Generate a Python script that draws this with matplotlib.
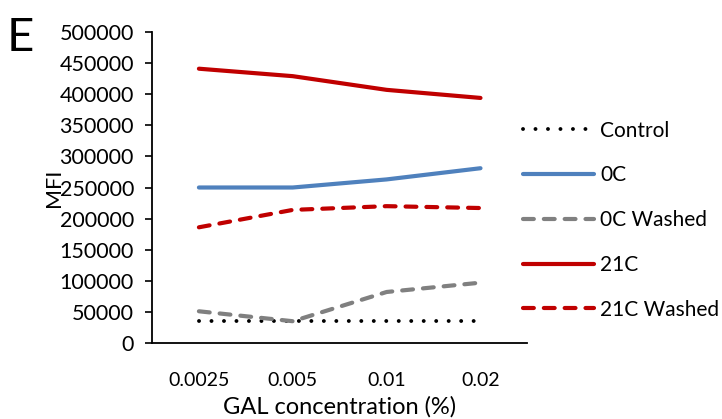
import numpy as np
import matplotlib.pyplot as plt

# data
conc = ["0.0025", "0.005", "0.01", "0.02"]
control = [35000, 35000, 35000, 35000]
c0 = [250000, 250000, 263000, 281000]
c0_washed = [51000, 35000, 82000, 97000]
c21 = [441000, 429000, 407000, 394000]
c21_washed = [186000, 214000, 220000, 217000]

plt.rcParams['font.family'] = ['Lato', 'DejaVu Sans']

fig = plt.figure(figsize=(7.22, 4.19), dpi=100)
ax = fig.add_axes([0.2105, 0.1814, 0.52, 0.7422])

x = np.arange(len(conc))
ax.plot(x, control, color='black', lw=2.8, linestyle=(0, (0.01, 3.2)),
        dash_capstyle='round', label='Control')
ax.plot(x, c0, color='#4f81bd', lw=3, solid_capstyle='round', label='0C')
ax.plot(x, c0_washed, color='#808080', lw=3, linestyle=(0, (2.6, 2.4)),
        dash_capstyle='round', label='0C Washed')
ax.plot(x, c21, color='#c00000', lw=3, solid_capstyle='round', label='21C')
ax.plot(x, c21_washed, color='#c00000', lw=3, linestyle=(0, (2.6, 2.4)),
        dash_capstyle='round', label='21C Washed')

ax.set_xlim(-0.5, len(conc) - 0.5)
ax.set_ylim(0, 500000)
ax.set_yticks(np.arange(0, 500001, 50000))
ax.set_xticks(x)
ax.set_xticklabels(conc)
ax.tick_params(axis='x', length=0, labelsize=14, pad=21)
ax.tick_params(axis='y', length=5, width=1.2, direction='out', labelsize=15.5, pad=8)
for s in ['top', 'right']:
    ax.spines[s].set_visible(False)
ax.spines['left'].set_linewidth(1.3)
ax.spines['bottom'].set_linewidth(1.3)

ax.set_xlabel('GAL concentration (%)', fontsize=17, labelpad=5)
ax.set_ylabel('MFI', fontsize=15.5, labelpad=-3)

fig.text(0.009, 0.878, 'E', fontsize=34, va='baseline', ha='left')

leg = ax.legend(loc='upper left', bbox_to_anchor=(0.967, 0.742), frameon=False,
                fontsize=15, handlelength=3.4, labelspacing=1.19,
                handletextpad=0.3, borderaxespad=0)
leg.set_zorder(5)

fig.savefig('out.png', dpi=100)
